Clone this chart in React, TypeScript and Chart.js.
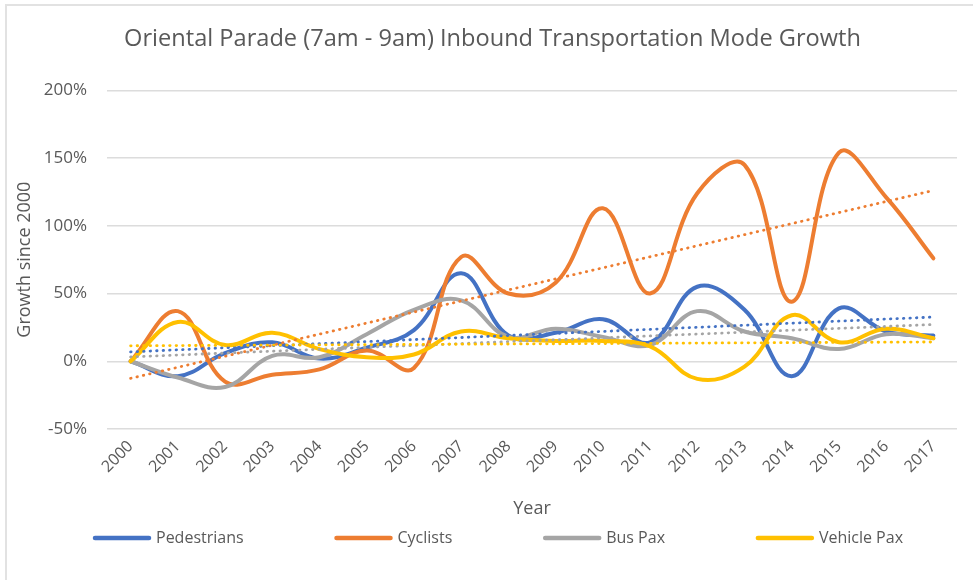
import { useEffect, useRef } from "react";
import { Chart, registerables } from "chart.js";

Chart.register(...registerables);

const FONT = "'Open Sans', 'DejaVu Sans', sans-serif";
const TEXT = "#595959";

const years = [
  "2000", "2001", "2002", "2003", "2004", "2005", "2006", "2007", "2008",
  "2009", "2010", "2011", "2012", "2013", "2014", "2015", "2016", "2017",
];

const pedestrians = [0, -11, 6, 14, 2, 10, 23, 65, 19, 21, 31, 14, 55, 38, -11, 39, 22, 19];
const cyclists = [0, 37, -15, -10, -6, 8, -5, 77, 50, 58, 113, 50, 124, 145, 44, 154, 121, 76];
const busPax = [0, -12, -19, 4, 3, 20, 38, 45, 18, 24, 18, 12, 37, 22, 17, 9, 20, 17];
const vehiclePax = [0, 29, 12, 21, 9, 3, 5, 22, 17, 15, 15, 11, -13, -4, 34, 14, 24, 17];

const seriesNames = ["Pedestrians", "Cyclists", "Bus Pax", "Vehicle Pax"];
const seriesColors = ["#4472C4", "#ED7D31", "#A5A5A5", "#FFC000"];
const seriesValues = [pedestrians, cyclists, busPax, vehiclePax];

const yMin = -50;
const yMax = 200;
const yStep = 50;

const titleText = "Oriental Parade (7am - 9am) Inbound Transportation Mode Growth";
const yTitle = "Growth since 2000";
const xTitle = "Year";

// Linear least-squares trendline of a series (as Excel's linear trendline)
function linearTrend(values: number[]): number[] {
  const n = values.length;
  const mx = (n - 1) / 2;
  const my = values.reduce((a, b) => a + b, 0) / n;
  let sxy = 0;
  let sxx = 0;
  values.forEach((v, i) => {
    sxy += (i - mx) * (v - my);
    sxx += (i - mx) * (i - mx);
  });
  const slope = sxy / sxx;
  const intercept = my - slope * mx;
  return values.map((_, i) => intercept + slope * i);
}

const framePlugin = {
  id: "frame",
  beforeDraw(chart: any) {
    const ctx = chart.ctx;
    ctx.save();
    ctx.fillStyle = "#ffffff";
    ctx.fillRect(0, 0, chart.width, chart.height);
    ctx.strokeStyle = "#e2e2e2";
    ctx.lineWidth = 2;
    ctx.beginPath();
    ctx.moveTo(6, chart.height);
    ctx.lineTo(6, 5);
    ctx.lineTo(chart.width, 5);
    ctx.stroke();
    ctx.restore();
  },
};

const legendPlugin = {
  id: "excelLegend",
  afterDraw(chart: any) {
    const ctx = chart.ctx;
    ctx.save();
    ctx.font = `16px ${FONT}`;
    const lineLen = 58;
    const textGap = 5;
    const widths = seriesNames.map((s) => lineLen + textGap + ctx.measureText(s).width);
    const left = 93;
    const right = 903;
    const gap = (right - left - widths.reduce((a, b) => a + b, 0)) / (seriesNames.length - 1);
    const y = 538;
    let x = left;
    seriesNames.forEach((name, i) => {
      ctx.strokeStyle = seriesColors[i];
      ctx.lineWidth = 4.5;
      ctx.lineCap = "round";
      ctx.beginPath();
      ctx.moveTo(x + 2, y);
      ctx.lineTo(x + lineLen - 2, y);
      ctx.stroke();
      ctx.fillStyle = TEXT;
      ctx.textAlign = "left";
      ctx.textBaseline = "middle";
      ctx.fillText(name, x + lineLen + textGap, y);
      x += widths[i] + gap;
    });
    ctx.restore();
  },
};

export default function App() {
  const canvasRef = useRef<HTMLCanvasElement | null>(null);

  useEffect(() => {
    if (!canvasRef.current) return;
    const mainSets = seriesValues.map((vals, i) => ({
      label: seriesNames[i],
      data: vals,
      borderColor: seriesColors[i],
      backgroundColor: seriesColors[i],
      borderWidth: 4,
      borderCapStyle: "round" as const,
      borderJoinStyle: "round" as const,
      tension: 0.4,
      pointRadius: 0,
      fill: false,
      order: 10 - i,
    }));
    const trendSets = seriesValues.map((vals, i) => ({
      label: seriesNames[i] + " trend",
      data: linearTrend(vals),
      borderColor: seriesColors[i],
      borderWidth: 2.8,
      borderDash: [0.5, 6],
      borderCapStyle: "round" as const,
      tension: 0,
      pointRadius: 0,
      fill: false,
      order: 5 - i,
    }));

    const chart = new Chart(canvasRef.current, {
      type: "line",
      data: { labels: years, datasets: [...mainSets, ...trendSets] },
      plugins: [framePlugin, legendPlugin],
      options: {
        responsive: false,
        animation: false,
        devicePixelRatio: 1,
        layout: { padding: { left: 28, right: 16, top: 0, bottom: 60 } },
        plugins: {
          legend: { display: false },
          tooltip: { enabled: false },
          title: {
            display: true,
            text: titleText,
            color: TEXT,
            font: { family: FONT, size: 23.6, weight: "normal" },
            padding: { top: 25, bottom: 37 },
          },
        },
        scales: {
          x: {
            type: "category",
            offset: true,
            grid: { display: false, drawTicks: false },
            border: { display: false },
            ticks: {
              color: TEXT,
              font: { family: FONT, size: 16 },
              minRotation: 45,
              maxRotation: 45,
              autoSkip: false,
              padding: 8,
            },
            title: {
              display: true,
              text: xTitle,
              color: TEXT,
              font: { family: FONT, size: 18 },
              padding: { top: 0, bottom: 0 },
            },
            afterFit(scale: any) {
              scale.height = 91;
            },
          },
          y: {
            min: yMin,
            max: yMax,
            ticks: {
              stepSize: yStep,
              color: TEXT,
              font: { family: FONT, size: 17 },
              padding: 20,
              callback: (v: any) => `${v}%`,
            },
            grid: { color: "#dcdcdc", lineWidth: 1.5, drawTicks: false },
            border: { display: false },
            title: {
              display: true,
              text: yTitle,
              color: TEXT,
              font: { family: FONT, size: 18 },
              padding: { top: -14, bottom: 0 },
            },
            afterFit(scale: any) {
              scale.width = 79;
            },
          },
        },
      },
    });
    return () => chart.destroy();
  }, []);

  return (
    <div style={{ position: "absolute", left: 0, top: 0, width: 973, height: 580, background: "#fff" }}>
      <canvas ref={canvasRef} width={973} height={580} style={{ display: "block" }} />
    </div>
  );
}
